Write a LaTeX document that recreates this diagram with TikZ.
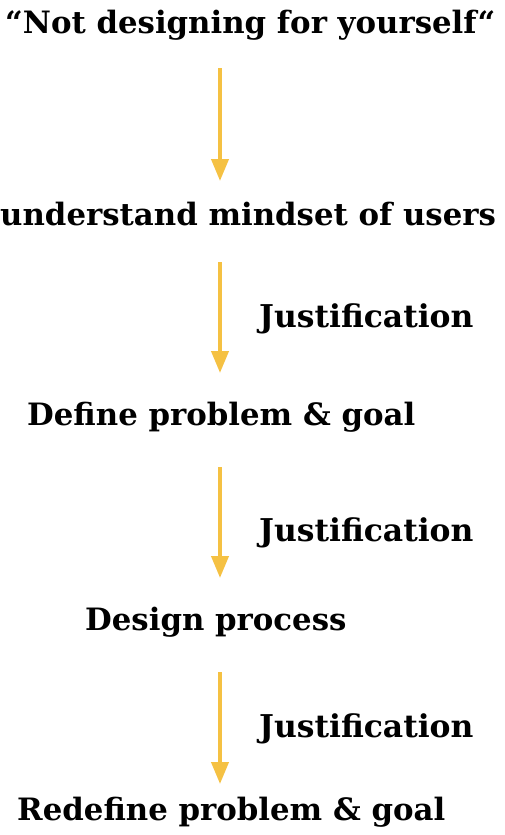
\documentclass[tikz,border=0pt]{standalone}
\usepackage{fontspec}
\setmainfont{DejaVu Serif}
\usepackage{tikz}
\usetikzlibrary{arrows.meta}
\definecolor{goldline}{RGB}{245,193,67}
\tikzstyle{none}=[inner sep=0pt]
\tikzstyle{phase}=[inner sep=0pt,anchor=base west,font=\fontsize{30.8}{33}\selectfont\bfseries]
\tikzstyle{reason}=[inner sep=0pt,anchor=base west,font=\fontsize{31.4}{33}\selectfont\bfseries]
\tikzstyle{flow}=[-{Triangle[width=17pt,length=22pt]},draw=goldline,line width=4pt]
\pgfdeclarelayer{edgelayer}
\pgfdeclarelayer{nodelayer}
\pgfsetlayers{edgelayer,nodelayer,main}
\begin{document}
\begin{tikzpicture}[x=1pt,y=-1pt]
	\useasboundingbox (0,0) rectangle (504,835);
	\begin{pgfonlayer}{nodelayer}
		\node [style=phase] (start) at (5, 33) {“Not designing for yourself“};
		\node [style=phase] (users) at (0, 225) {understand mindset of users};
		\node [style=phase] (define) at (27, 425) {Define problem \& goal};
		\node [style=phase] (design) at (85, 630) {Design process};
		\node [style=phase] (redefine) at (17, 820) {Redefine problem \& goal};
		\node [style=reason] (why1) at (259, 327) {Justification};
		\node [style=reason] (why2) at (259, 541) {Justification};
		\node [style=reason] (why3) at (259, 737) {Justification};
		\node [style=none] (a1T) at (220, 68) {};
		\node [style=none] (a1B) at (220, 181) {};
		\node [style=none] (a2T) at (220, 262) {};
		\node [style=none] (a2B) at (220, 373) {};
		\node [style=none] (a3T) at (220, 467) {};
		\node [style=none] (a3B) at (220, 578) {};
		\node [style=none] (a4T) at (220, 672) {};
		\node [style=none] (a4B) at (220, 784) {};
	\end{pgfonlayer}
	\begin{pgfonlayer}{edgelayer}
		\draw [style=flow] (a1T.center) to (a1B.center);
		\draw [style=flow] (a2T.center) to (a2B.center);
		\draw [style=flow] (a3T.center) to (a3B.center);
		\draw [style=flow] (a4T.center) to (a4B.center);
	\end{pgfonlayer}
\end{tikzpicture}
\end{document}
